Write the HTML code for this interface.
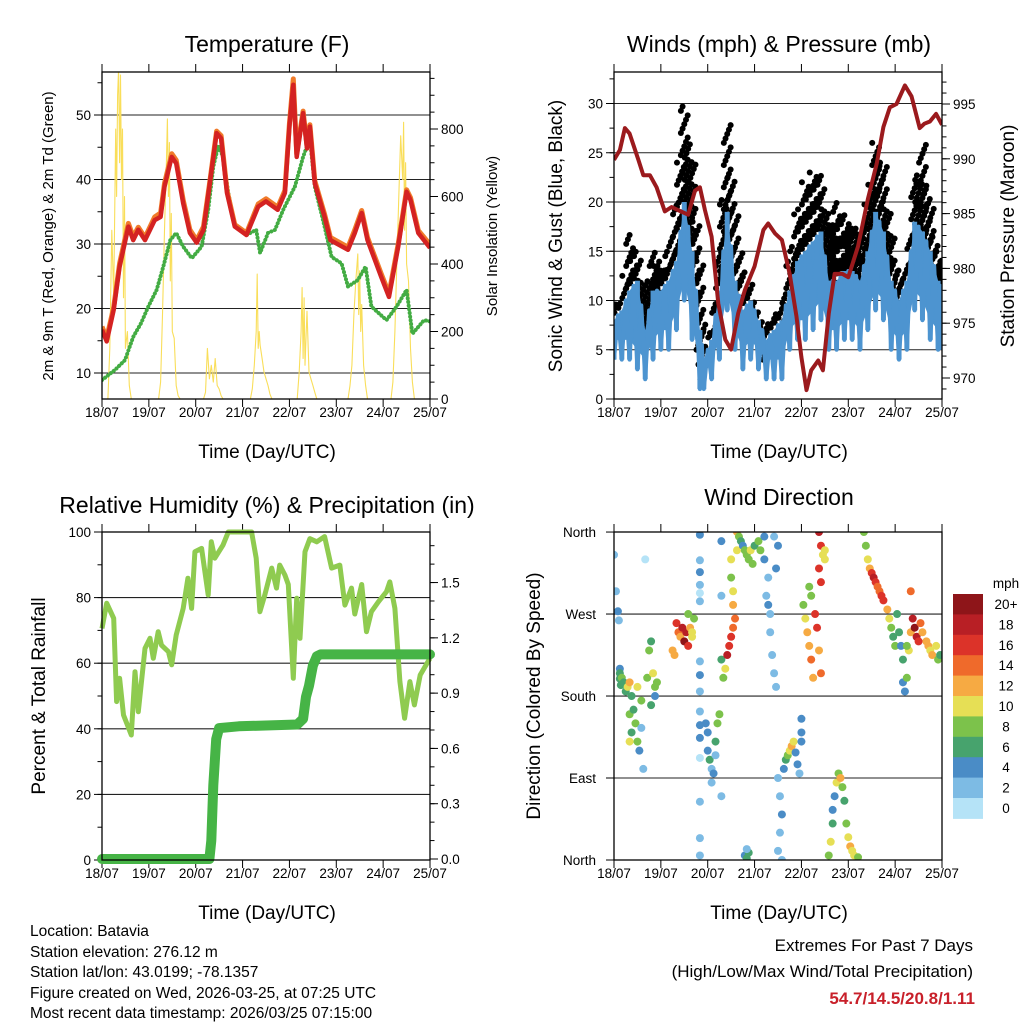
<!DOCTYPE html>
<html><head><meta charset="utf-8"><style>
html,body{margin:0;padding:0;background:#fff}
svg{display:block;font-family:"Liberation Sans",Arial,sans-serif}
</style></head><body>
<svg id="fig" width="1024" height="1024" viewBox="0 0 1024 1024" xmlns="http://www.w3.org/2000/svg">
<rect x="0" y="0" width="1024" height="1024" fill="#fff"/>
<g id="p1"></g>
<g id="p2"></g>
<g id="p3"></g>
<g id="p4"></g>

<text x="267" y="52" font-size="23" text-anchor="middle">Temperature (F)</text>
<text x="779" y="52" font-size="23" text-anchor="middle">Winds (mph) &amp; Pressure (mb)</text>
<text x="267" y="513" font-size="23" text-anchor="middle">Relative Humidity (%) &amp; Precipitation (in)</text>
<text x="779" y="505" font-size="23" text-anchor="middle">Wind Direction</text>

<text x="267" y="458" font-size="19" text-anchor="middle">Time (Day/UTC)</text>
<text x="779" y="458" font-size="19" text-anchor="middle">Time (Day/UTC)</text>
<text x="267" y="919" font-size="19" text-anchor="middle">Time (Day/UTC)</text>
<text x="779" y="919" font-size="19" text-anchor="middle">Time (Day/UTC)</text>

<text transform="translate(53,236) rotate(-90)" font-size="15" text-anchor="middle">2m &amp; 9m T (Red, Orange) &amp; 2m Td (Green)</text>
<text transform="translate(497,236) rotate(-90)" font-size="15" text-anchor="middle">Solar Insolation (Yellow)</text>
<text transform="translate(562,236) rotate(-90)" font-size="19" text-anchor="middle">Sonic Wind &amp; Gust (Blue, Black)</text>
<text transform="translate(1014,236) rotate(-90)" font-size="19" text-anchor="middle">Station Pressure (Maroon)</text>
<text transform="translate(45,696) rotate(-90)" font-size="19" text-anchor="middle">Percent &amp; Total Rainfall</text>
<text transform="translate(540,696) rotate(-90)" font-size="19" text-anchor="middle">Direction (Colored By Speed)</text>

<g font-size="15.5">
<text x="30" y="936">Location: Batavia</text>
<text x="30" y="957">Station elevation: 276.12 m</text>
<text x="30" y="977">Station lat/lon: 43.0199; -78.1357</text>
<text x="30" y="998">Figure created on Wed, 2026-03-25, at 07:25 UTC</text>
<text x="30" y="1018">Most recent data timestamp: 2026/03/25 07:15:00</text>
</g>
<text x="973" y="951" font-size="17" text-anchor="end">Extremes For Past 7 Days</text>
<text x="973" y="977" font-size="17" text-anchor="end">(High/Low/Max Wind/Total Precipitation)</text>
<text x="975" y="1004" font-size="17" font-weight="bold" fill="#c8202a" text-anchor="end">54.7/14.5/20.8/1.11</text>
</svg>
<script>
// ---------- data ----------
const dayLabels = ["18/07","19/07","20/07","21/07","22/07","23/07","24/07","25/07"];
const tempHours = [0,2.4,6,9,13.5,16,18.6,22,27,30,32,35.7,38,41.6,45,48.5,52,55,58.7,61,64,68,74,80,84,90,93.7,96,98,99.7,103,105,106.5,109,114,117,126,129.5,133,136,143,147,151.7,156,158,162,168];
const temp2m = [16.7,14.9,19.8,26.5,32.7,30.6,32.2,30.6,33.7,34.2,38.9,43.5,42.5,36.3,31.7,30.2,32.2,38.9,47.2,46.4,37.9,32.7,31.4,35.8,36.6,35.3,37.9,48.2,54.7,43.5,50.3,44.8,48.2,39.4,34.2,30.6,29.1,31.7,34.8,30.6,24.9,21.8,29.6,38.1,36.8,31.7,29.4];
const temp9m = [17.2,15.4,20.2,27.0,33.2,31.1,32.6,31.0,34.2,34.8,39.4,44.0,43.0,36.8,32.2,30.6,32.7,39.2,47.5,46.8,38.3,33.0,31.7,36.2,37.0,35.7,38.3,48.6,55.6,44.0,50.6,45.2,48.5,39.8,34.6,31.0,29.5,32.2,35.2,31.0,25.4,22.3,30.0,38.4,37.2,32.1,29.9];
const dewHours = [0,6.7,11.8,16,20,23.7,28,31.4,35,38,41.6,46,51,54.4,57,59.6,62,64.7,68,74,79,81,85,88.6,92.8,98.8,103,106.5,109,114,117.6,122.7,126,131,135,138,145.7,150.9,156,159,165,168];
const dewPoint = [8.9,10.5,12.0,15.6,17.7,20.3,22.9,26.5,30.6,31.7,29.6,27.8,29.6,35.3,42.0,45.3,43.5,37.9,32.7,31.4,32.2,28.6,31.7,32.2,35.3,38.9,43.5,46.4,38.9,32.7,28.0,27.0,23.4,24.4,26.5,20.3,18.2,20.3,22.9,16.1,18.2,18.0];
const solarHours = [0,3,4,5,6,7,7.5,8,8.5,9,9.5,10,10.5,11,11.5,12,13,14,15,29,30,31,32,33,33.5,34,34.5,35,35.5,36,37,38,39,40,52,53,54,55,56,57,58,59,60,61,62,76,77,78,79,79.5,80,80.5,81,82,83,84,85,86,87,100,101,102,102.5,103,103.5,104,105,106,107,108,109,110,126,127,128,129,130,131,131.5,132,132.5,133,134,135,136,148,149,150,151,152,153,154,154.5,155,155.5,156,157,158,159,160,168];
const solarVals = [0,0,150,500,300,800,600,900,980,700,960,650,800,300,600,150,200,40,0,0,50,250,500,700,830,600,760,350,550,200,180,40,10,0,0,20,150,60,100,50,120,40,30,10,0,0,30,100,200,370,150,200,160,120,80,60,40,15,0,0,80,200,330,120,300,100,260,80,60,40,20,0,0,40,100,250,350,430,250,380,200,280,100,40,0,0,50,200,400,600,780,650,820,500,700,400,350,150,50,0,0];

const windHours = [0,4,8,12,16,20,24,28,32,36,40,44,46,50,54,58,62,66,70,74,78,82,86,90,94,98,102,106,110,114,118,122,126,130,134,138,142,146,150,154,158,162,166,168];
const windLow = [4,4,4,3,2,4,5,5,7,10,6,1,1,2,4,9,5,3,4,3,2,2,2,5,6,6,7,8,5,5,6,6,5,7,9,8,5,4,5,9,8,6,5,5];
const windHigh = [8,9,11,12,7,11,11,12,14,20,15,7,4,6,11,19,12,9,10,8,6,7,8,11,14,15,16,17,12,12,13,13,12,15,19,17,12,10,12,18,17,15,12,11];
const gustPeak = [10,10,17,15,11,15,14,15,20,30,24,14,5.5,7,15,28,19,13,12,9,8,9,10,14,19,22,23,23,18,20,19,18,17,20,26,24,17,13,14,22,26,20,15,14];
const presHours = [0,3,5.6,8,12.5,15,18.4,21.8,26,29.5,33,38,41.5,44,46.6,50,53.4,57,60,63.6,67,72,76.5,79,82.4,86,90,93.5,96,98.6,101,104.6,107,110,113,117,120,125,130,134.6,138,141.3,144.7,149,152.4,156.6,159,161.8,165,168];
const pressure = [989.9,990.8,992.8,992.3,989.9,988.5,988.5,987.4,985.2,985.6,985.3,984.9,987.1,987.4,985.3,982.9,976.8,973.5,972.6,975.9,978.0,980.2,983.5,984.1,983.2,982.6,979.5,975.6,971.9,968.9,970.7,971.6,970.7,975.9,979.5,979.5,979.2,982.0,986.3,989.6,992.9,994.7,995.0,996.7,995.7,992.8,993.2,993.4,994.1,993.1];

const rhHours = [0,2.4,6,7.5,9,11,15,16.9,18.6,22,24.6,26.3,28.8,30.5,34,35.7,38,41.6,44,45.9,47.6,51,54.4,56,57.8,62,64.7,76.6,79,80.9,83.4,86.9,89.4,91,93.7,95.4,98,99.7,101.4,104,106.5,110,114,117.6,121.8,124.4,127.8,129.5,133,135.5,138,141.5,145.7,147.4,150,152.6,155,157.7,160,163,167,168];
const rhVals = [70.6,78.3,73.7,48.3,55.4,44.2,38.1,57.4,45.2,64.5,67.6,61.5,69.6,65.5,63.5,59.5,68.6,76.7,85.9,76.7,94,95,80.8,97,92,96,100,100,92,75.7,80.8,89,82.9,89.9,86.9,84,55.4,79.8,67.6,94,98,97,98.6,89,89.9,77.7,82.9,75,84,69.6,75.7,78.7,81.8,84.8,76.7,54.4,43.2,54.4,47.3,56.4,60.5,61.5];
const rainHours = [0,55,56,57,58.5,60,70,100,103,104.5,106,108,110,112,168];
const rainTotal = [0,0,0.1,0.4,0.65,0.71,0.72,0.73,0.76,0.88,0.94,1.05,1.1,1.11,1.11];

const dirHours = [0,1,2,2.5,3,3,3.5,3,4,5,6,7,8,9,8,9,10,11,12,13,14,15,8,12,14,16,17,18,19,20,21,22,19,21,32,33,34,35,36,37,38,39,40,41,30,31,38,40,44,44,44,44,44,44,44,44,44,44,44,44,44,44,44,44,47,48,48,49,50,51,52,53,54,52,50,55,55,55,55,56,57,58,59,60,61,62,61,61,60,60,63,63,64,65,66,67,68,69,70,71,72,74,75,67,68,69,68,77,78,79,80,80,81,82,83,77,82,84,79,83,84,85,86,85,84,86,87,88,89,90,91,92,93,94,95,96,96,96,97,98,99,100,101,102,100,101,103,104,105,106,105,106,105,106,107,108,108,110,111,112,112,113,114,115,116,117,118,119,120,121,122,123,125,128,129,130,131,132,133,134,135,136,137,138,140,141,142,143,144,145,146,147,148,148,149,150,151,152,153,154,155,156,157,158,160,161,162,163,165,166,167,152,150];
const dirDeg = [335,295,273,263,210,199,192,205,200,195,185,190,195,180,160,140,165,150,130,120,145,100,130,190,175,330,200,230,240,205,190,195,170,180,260,250,245,255,240,250,235,255,250,265,230,225,270,245,357,329,316,302,293,284,218,203,185,163,148,134,112,64,24,5,150,140,120,110,100,95,130,150,160,115,85,350,290,220,70,200,210,225,235,245,255,265,280,295,310,330,340,360,355,350,345,340,335,330,340,325,345,350,340,5,2,8,12,330,290,280,270,250,225,205,190,355,355,345,310,320,90,70,50,30,10,0,100,110,115,120,125,130,118,105,95,155,140,130,280,265,250,235,220,200,300,290,270,255,230,205,320,305,360,345,335,340,330,5,20,40,55,70,85,95,90,80,65,40,25,15,10,5,3,360,345,330,320,315,310,305,300,295,290,285,275,265,255,245,235,270,250,235,220,195,185,200,230,250,265,255,245,240,260,250,240,235,230,225,235,220,225,295,235];
const dirSpeed = [3,3,4,3,4,7,6,7,8,6,6,10,12,7,9,6,6,8,8,4,3,3,10,11,8,1,8,9,7,10,8,9,6,4,17,15,13,18,20,19,17,12,10,9,13,13,8,10,4,3,4,3,1,3,2,4,2,3,4,4,1,3,2,2,4,5,4,6,3,4,7,8,9,3,3,4,3,6,2,8,10,18,17,16,15,14,12,10,8,10,10,12,8,6,5,8,9,8,11,9,6,8,9,4,7,6,3,4,3,4,2,3,3,3,2,4,3,4,3,4,3,3,4,2,2,3,5,6,9,11,12,10,5,4,3,4,4,4,9,10,12,12,14,13,8,9,16,16,13,15,16,16,18,16,10,10,11,8,10,6,4,5,11,9,12,8,7,9,11,12,11,10,9,8,9,10,12,16,18,17,14,15,16,17,12,10,8,7,8,6,7,5,6,4,5,8,10,12,18,20,19,16,14,12,13,12,11,13,10,8,7,15,8];

const cbLabels = ["20+","18","16","14","12","10","8","6","4","2","0"];
const speedColors = ["#b5e3f7","#7dbbe4","#4a8cc6","#47a36d","#7cc24b","#e6df55","#f6aa43","#ef6a2b","#dc3329","#b81f25","#8e1519"];

// ---------- helpers ----------
const NS="http://www.w3.org/2000/svg";
function mk(parent,tag,attrs){const e=document.createElementNS(NS,tag);for(const k in attrs)e.setAttribute(k,attrs[k]);parent.appendChild(e);return e;}
function pts(xs,ys,fx,fy){return xs.map((h,i)=>fx(h).toFixed(1)+","+fy(ys[i]).toFixed(1)).join(" ");}

const P={L1:102,R1:430,L2:614,R2:942,T1:72,B1:399,T2:532,B2:860};
const xA=h=>P.L1+h*(P.R1-P.L1)/168;
const xB=h=>P.L2+h*(P.R2-P.L2)/168;
const yTemp=t=>373-(t-10)*6.45;
const ySolar=s=>399-s*0.3375;
const yWind=v=>399-v*9.85;
const yPres=p=>378-(p-970)*10.96;
const yRH=r=>860-r*3.28;
const yRain=p=>859-p*184.3;
const yDir=d=>860-d*0.911;

function frame(g,L,R,T,B,xf,name){
  const clip=mk(g,"clipPath",{id:"clip-"+name});
  mk(clip,"rect",{x:L,y:T,width:R-L,height:B-T});
  dayLabels.forEach((lab,i)=>{
    const x=xf(i*24);
    const t1=mk(g,"line",{x1:x,x2:x,y1:B,y2:B+8,stroke:"#000","stroke-width":1});
    
    
    const t2=mk(g,"line",{x1:x,x2:x,y1:T,y2:T-8,stroke:"#000","stroke-width":1});
    
    
    const tx=mk(g,"text",{x:x,y:B+18,"font-size":13.5,"text-anchor":"middle"});
    tx.textContent=lab;
    
    
  });
}
function box(g,L,R,T,B){
  const r=mk(g,"rect",{x:L,y:T,width:R-L,height:B-T,fill:"none",stroke:"#000","stroke-width":1.3});
  
  
}
function yAxis(g,side,x,T,B,vals,yf,fmt,minorVals,grid,L,R){
  const dir=side==="left"?-1:1;
  minorVals.forEach(v=>{const y=yf(v);if(y<T-0.5||y>B+0.5)return;
    const m=mk(g,"line",{x1:x,x2:x+dir*4.5,y1:y,y2:y,stroke:"#000","stroke-width":1});
    
    });
  vals.forEach(v=>{const y=yf(v);
    const t=mk(g,"line",{x1:x,x2:x+dir*8,y1:y,y2:y,stroke:"#000","stroke-width":1});
    
    
    if(grid && y>T+1 && y<B-1){const gl=mk(g,"line",{x1:L,x2:R,y1:y,y2:y,stroke:"#222","stroke-width":1.1});
      
      }
    const tx=mk(g,"text",{x:x+dir*11,y:y+5,"font-size":13.5,"text-anchor":side==="left"?"end":"start"});
    tx.textContent=fmt(v);
    
    });
}
function range(a,b,s){const o=[];for(let v=a;v<=b+1e-9;v+=s)o.push(+v.toFixed(3));return o;}

// ---------- panel 1: temperature ----------
(function(){
  const g=document.getElementById("p1");
  frame(g,P.L1,P.R1,P.T1,P.B1,xA,"temp");
  yAxis(g,"left",P.L1,P.T1,P.B1,[10,20,30,40,50],yTemp,v=>v,range(5,55,5),true,P.L1,P.R1);
  yAxis(g,"right",P.R1,P.T1,P.B1,[0,200,400,600,800],ySolar,v=>v,range(0,950,50),false);
  const d=mk(g,"g",{"clip-path":"url(#clip-temp)"});
  const s=mk(d,"polyline",{points:pts(solarHours,solarVals,xA,ySolar),fill:"none",stroke:"#f9de5a","stroke-width":1.1,"stroke-linejoin":"round"});
  
  
  const dw=mk(d,"polyline",{points:pts(dewHours,dewPoint,xA,yTemp),fill:"none",stroke:"#43ac43","stroke-width":4,"stroke-dasharray":"0.1 3.6","stroke-linecap":"round"});
  
  
  const o=mk(d,"polyline",{points:pts(tempHours,temp9m,xA,yTemp),fill:"none",stroke:"#f07b2a","stroke-width":5,"stroke-linejoin":"round"});
  
  
  const r=mk(d,"polyline",{points:pts(tempHours,temp2m,xA,yTemp),fill:"none",stroke:"#d42222","stroke-width":4.5,"stroke-linejoin":"round"});
  
  
  box(g,P.L1,P.R1,P.T1,P.B1);
})();

// ---------- panel 2: winds ----------
(function(){
  const g=document.getElementById("p2");
  frame(g,P.L2,P.R2,P.T1,P.B1,xB,"wind");
  yAxis(g,"left",P.L2,P.T1,P.B1,[0,5,10,15,20,25,30],yWind,v=>v,range(0,32.5,2.5),true,P.L2,P.R2);
  yAxis(g,"right",P.R2,P.T1,P.B1,[970,975,980,985,990,995],yPres,v=>v,range(969,998,1),false);
  const d=mk(g,"g",{"clip-path":"url(#clip-wind)"});
  const cols=[];
  windHours.forEach((h,i)=>{
    cols.push([h,windHigh[i],gustPeak[i]]);
    if(i<windHours.length-1){
      cols.push([(h+windHours[i+1])/2,(windHigh[i]+windHigh[i+1])/2,(gustPeak[i]+gustPeak[i+1])/2-1]);
    }
  });
  cols.forEach(([h,hiW,gp])=>{
    const x=xB(h);
    const lo=hiW-2;
    let k=0;
    for(let v=lo; v<=gp+0.01; v+=0.45){
      const off=((k%5)-2)*1.7; k++;
      const c=mk(d,"circle",{cx:x+off,cy:yWind(v),r:3,fill:"#000"});
      
      
    }
  });
  let poly=[];
  windHours.forEach((h,i)=>poly.push(xB(h).toFixed(1)+","+yWind(windHigh[i]).toFixed(1)));
  for(let i=windHours.length-1;i>=0;i--)poly.push(xB(windHours[i]).toFixed(1)+","+yWind(windLow[i]+2).toFixed(1));
  const pf=mk(d,"polygon",{points:poly.join(" "),fill:"#4d94d0"});
  
  
  let bp=[];
  windHours.forEach((h,i)=>{bp.push(xB(h).toFixed(1)+","+yWind(windLow[i]).toFixed(1));
    if(i<windHours.length-1){const hm=(h+windHours[i+1])/2;bp.push(xB(hm).toFixed(1)+","+yWind((windHigh[i]+windHigh[i+1])/2).toFixed(1));}});
  windHours.forEach((h,i)=>{
    const l=mk(d,"line",{x1:xB(h),x2:xB(h),y1:yWind(windLow[i]),y2:yWind(windHigh[i]),stroke:"#4d94d0","stroke-width":5});
    
    
  });
  const bb=mk(d,"polyline",{points:bp.join(" "),fill:"none",stroke:"#4d94d0","stroke-width":4,"stroke-linejoin":"round"});
  
  
  const pr=mk(d,"polyline",{points:pts(presHours,pressure,xB,yPres),fill:"none",stroke:"#9b1a1d","stroke-width":4,"stroke-linejoin":"round"});
  
  
  box(g,P.L2,P.R2,P.T1,P.B1);
})();

// ---------- panel 3: humidity ----------
(function(){
  const g=document.getElementById("p3");
  frame(g,P.L1,P.R1,P.T2,P.B2,xA,"rh");
  yAxis(g,"left",P.L1,P.T2,P.B2,[0,20,40,60,80,100],yRH,v=>v,range(0,100,10),true,P.L1,P.R1);
  yAxis(g,"right",P.R1,P.T2,P.B2,[0,0.3,0.6,0.9,1.2,1.5],yRain,v=>v.toFixed(1),range(0,1.7,0.1),false);
  const d=mk(g,"g",{});
  const rh=mk(d,"polyline",{points:pts(rhHours,rhVals,xA,yRH),fill:"none",stroke:"#8fcb50","stroke-width":5,"stroke-linejoin":"round"});
  
  
  const rn=mk(d,"polyline",{points:pts(rainHours,rainTotal,xA,yRain),fill:"none",stroke:"#46b446","stroke-width":10,"stroke-linejoin":"round","stroke-linecap":"round"});
  
  
  box(g,P.L1,P.R1,P.T2,P.B2);
})();

// ---------- panel 4: wind direction ----------
(function(){
  const g=document.getElementById("p4");
  frame(g,P.L2,P.R2,P.T2,P.B2,xB,"dir");
  const dirNames=["North","East","South","West","North"];
  [0,90,180,270,360].forEach((v,i)=>{const y=yDir(v);
    const t=mk(g,"line",{x1:P.L2,x2:P.L2-8,y1:y,y2:y,stroke:"#000","stroke-width":1});
    
    
    if(i>0&&i<4){const gl=mk(g,"line",{x1:P.L2,x2:P.R2,y1:y,y2:y,stroke:"#222","stroke-width":1.1});
      
      }
    const tx=mk(g,"text",{x:P.L2-18,y:y+5,"font-size":13.5,"text-anchor":"end"});
    tx.textContent=dirNames[i];
    
    });
  const d=mk(g,"g",{"clip-path":"url(#clip-dir)"});
  dirHours.forEach((h,i)=>{
    const sp=dirSpeed[i];const bin=Math.min(10,Math.floor(sp/2));
    const c=mk(d,"circle",{cx:xB(h),cy:yDir(dirDeg[i]),r:4,fill:speedColors[bin]});
    
    
  });
  box(g,P.L2,P.R2,P.T2,P.B2);
  const cb=mk(g,"g",{});
  
  
  const bh=20.4;
  cbLabels.forEach((lab,i)=>{
    const y=594+i*bh;
    const r=mk(cb,"rect",{x:953,y:y,width:30,height:bh+0.5,fill:speedColors[10-i]});
    
    
    const t=mk(cb,"text",{x:1006,y:y+15,"font-size":13.5,"text-anchor":"middle"});
    t.textContent=lab;
    
    
  });
  const u=mk(cb,"text",{x:1006,y:588,"font-size":13.5,"text-anchor":"middle"});
  u.textContent="mph";
  
  
})();
</script>
</body></html>
